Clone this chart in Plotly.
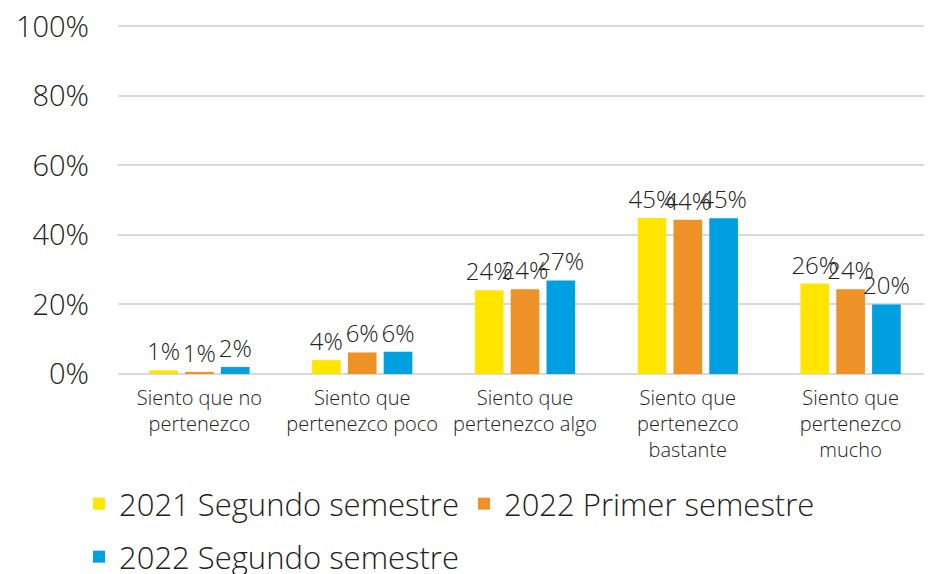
import plotly.graph_objects as go

categories = [
    "Siento que no<br>pertenezco",
    "Siento que<br>pertenezco poco",
    "Siento que<br>pertenezco algo",
    "Siento que<br>pertenezco<br>bastante",
    "Siento que<br>pertenezco<br>mucho",
]
series_names = ["2021 Segundo semestre", "2022 Primer semestre", "2022 Segundo semestre"]
s2021_2 = [1.05, 4.0, 24.1, 44.9, 26.0]
s2022_1 = [0.6, 6.2, 24.4, 44.4, 24.4]
s2022_2 = [2.0, 6.4, 26.9, 44.8, 20.0]
colors = ["#FFE500", "#EE9127", "#009FDF"]
tick_vals = [0, 20, 40, 60, 80, 100]
tick_text = ["0%", "20%", "40%", "60%", "80%", "100%"]

FONT = "Open Sans"
TXT = "#222222"
W = 300
legends = ["legend", "legend", "legend2"]
OFF = 8  # page body offset

fig = go.Figure()
for name, vals, col, lg in zip(series_names, [s2021_2, s2022_1, s2022_2], colors, legends):
    fig.add_trace(go.Bar(
        x=categories, y=vals, name=name, marker_color=col,
        marker_line_width=0, legend=lg,
        texttemplate="%{y:.0f}%", textposition="outside",
        textfont=dict(size=24, color=TXT, family=FONT, weight=W),
        constraintext="none", cliponaxis=False,
    ))

leg_common = dict(
    orientation="h", xref="container", yref="container",
    xanchor="left", yanchor="middle",
    font=dict(size=31, family=FONT, color=TXT, weight=W),
    itemwidth=30, traceorder="normal", bgcolor="rgba(0,0,0,0)",
)
fig.update_layout(
    width=932, height=574,
    margin=dict(l=118 - OFF, r=OFF, t=25 - OFF, b=200 + OFF, autoexpand=False),
    paper_bgcolor="white", plot_bgcolor="white",
    barmode="group", bargap=0.34, bargroupgap=0.2,
    font=dict(family=FONT, color=TXT, weight=W),
    showlegend=True,
    legend=dict(x=(79 - OFF) / 932, y=1 - (504 - OFF) / 574, **leg_common),
    legend2=dict(x=(79 - OFF) / 932, y=1 - (557 - OFF) / 574, **leg_common),
)
fig.update_yaxes(
    range=[0, 100.4], tickvals=tick_vals, ticktext=tick_text,
    showgrid=True, gridcolor="#D9D9D9", gridwidth=2,
    zeroline=True, zerolinecolor="#D9D9D9", zerolinewidth=2,
    tickfont=dict(size=29, family=FONT, color=TXT, weight=W),
    ticks="", ticklabelstandoff=28, showline=False, automargin=False,
    ticklabeloverflow="allow",
)
fig.update_xaxes(
    tickfont=dict(size=20, family=FONT, color=TXT, weight=W),
    showline=False, ticks="", automargin=False, ticklabelstandoff=10,
    ticklabeloverflow="allow",
)

fig.write_html("out.html")
